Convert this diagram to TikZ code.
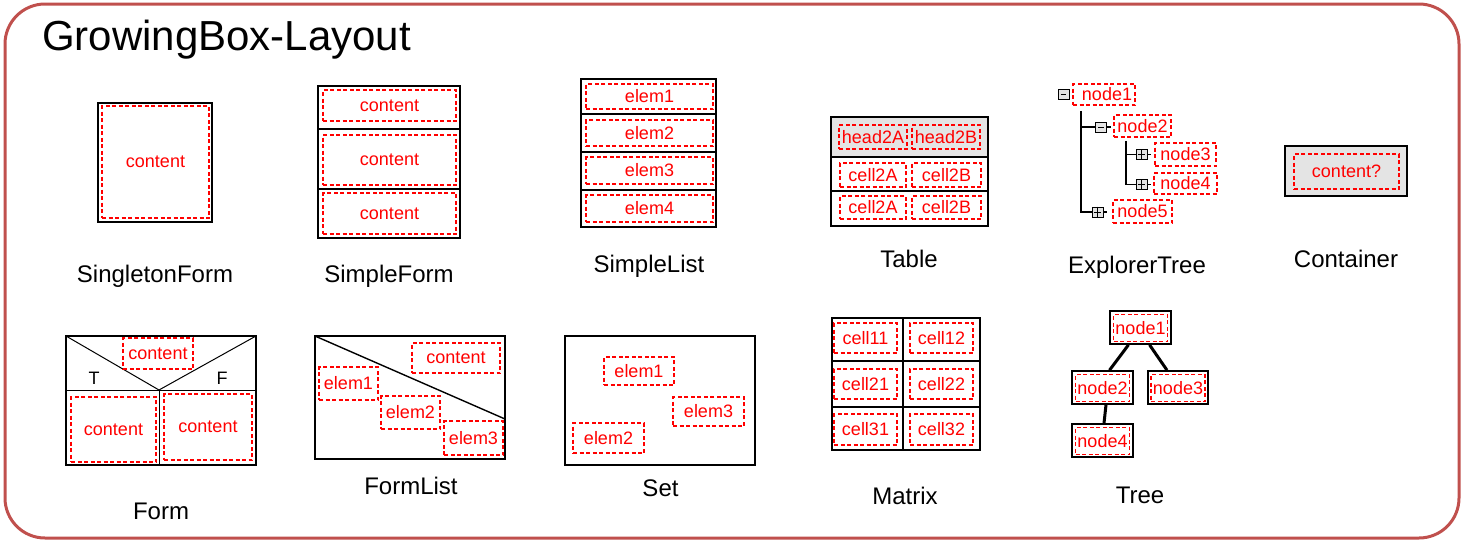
\documentclass[tikz,border=0pt]{standalone}
\usepackage{fontspec}
\setmainfont{Liberation Sans}
\usetikzlibrary{calc}
\definecolor{framered}{RGB}{192,80,77}
\definecolor{fillgray}{RGB}{228,228,228}
\begin{document}
\begin{tikzpicture}[x=1pt,y=-1pt,
  rb/.style={draw=red, line width=1.8pt, dash pattern=on 4pt off 2.5pt, text=red, font=\fontsize{18}{20}\selectfont, inner sep=0pt, rectangle},
  bb/.style={draw=black, line width=1.6pt, inner sep=0pt, rectangle},
  frm/.style={draw=black, line width=1.6pt},
  divl/.style={draw=black, line width=1pt},
  lbl/.style={font=\fontsize{24}{28}\selectfont, anchor=base, inner sep=0pt},
  tf/.style={font=\fontsize{18}{20}\selectfont, anchor=base, inner sep=0pt},
  tog/.style={draw=black, line width=0.9pt, fill=fillgray, minimum width=11pt, minimum height=10pt, inner sep=0pt, rectangle},
  conn/.style={draw=black, line width=1.4pt},
  tconn/.style={draw=black, line width=3pt},
]
\useasboundingbox (0,0) rectangle (1462,541);
% frame
\draw[framered, line width=3pt, rounded corners=40pt] (5,4) rectangle (1459,538);
\node[font=\fontsize{42}{48}\selectfont, anchor=base west, inner sep=0pt] (title) at (42,50) {GrowingBox-Layout};

% SingletonForm
\node[bb, minimum width=114pt, minimum height=119pt] (sgo) at (155,162.5) {};
\node[rb, minimum width=107pt, minimum height=112pt] (sgc) at (155.5,162) {content};
\node[lbl] (sgl) at (155,282) {SingletonForm};

% SimpleForm
\node[bb, minimum width=142pt, minimum height=152pt] (sfo) at (389,162) {};
\draw[frm] (318,129) -- (460,129);
\draw[frm] (318,189) -- (460,189);
\node[rb, minimum width=133pt, minimum height=31pt] (sf1) at (389.5,105.5) {content};
\node[rb, minimum width=133pt, minimum height=50pt] (sf2) at (389.5,160) {content};
\node[rb, minimum width=133pt, minimum height=41pt] (sf3) at (389.5,213.5) {content};
\node[lbl] (sfl) at (389,282) {SimpleForm};

% SimpleList
\node[bb, minimum width=135pt, minimum height=148pt] (slo) at (648.5,153) {};
\draw[frm] (581,114) -- (716,114);
\draw[frm] (581,152) -- (716,152);
\draw[frm] (581,190) -- (716,190);
\node[rb, minimum width=127pt, minimum height=25pt] (sl1) at (649.5,96.5) {elem1};
\node[rb, minimum width=127pt, minimum height=26pt] (sl2) at (649.5,133) {elem2};
\node[rb, minimum width=127pt, minimum height=27pt] (sl3) at (649.5,170.5) {elem3};
\node[rb, minimum width=127pt, minimum height=27pt] (sl4) at (649.5,208.5) {elem4};
\node[lbl] (sll) at (649,272) {SimpleList};

% Table
\fill[fillgray] (831,117) rectangle (988,157);
\node[bb, minimum width=157pt, minimum height=109pt] (tbo) at (909.5,171.5) {};
\draw[frm] (831,157) -- (988,157);
\draw[frm] (831,191) -- (988,191);
\node[rb, minimum width=68pt, minimum height=24pt] (th1) at (873,137) {head2A};
\node[rb, minimum width=68pt, minimum height=24pt] (th2) at (946,137) {head2B};
\node[rb, minimum width=66pt, minimum height=24pt] (tc1) at (873,175) {cell2A};
\node[rb, minimum width=69pt, minimum height=24pt] (tc2) at (946.5,175) {cell2B};
\node[rb, minimum width=66pt, minimum height=23pt] (tc3) at (873,207.5) {cell2A};
\node[rb, minimum width=69pt, minimum height=23pt] (tc4) at (946.5,207.5) {cell2B};
\node[lbl] (tbl) at (909,267) {Table};

% ExplorerTree
\node[tog] (t1) at (1063.5,94) {};
\draw[line width=1pt] ([xshift=3pt]t1.west) -- ([xshift=-3pt]t1.east);
\node[rb, minimum width=62pt, minimum height=21pt] (n1) at (1104,94.5) {\hspace*{6pt}node1};
\node[tog] (t2) at (1101,127) {};
\draw[line width=1pt] ([xshift=3pt]t2.west) -- ([xshift=-3pt]t2.east);
\node[rb, minimum width=57pt, minimum height=22pt] (n2) at (1142.5,126) {node2};
\node[tog] (t3) at (1141.5,154.5) {};
\draw[line width=1pt] ([xshift=2pt]t3.west) -- ([xshift=-2pt]t3.east) (t3.north) -- (t3.south);
\node[rb, minimum width=61pt, minimum height=23pt] (n3) at (1185.5,154.5) {node3};
\node[tog] (t4) at (1141.5,184.5) {};
\draw[line width=1pt] ([xshift=2pt]t4.west) -- ([xshift=-2pt]t4.east) (t4.north) -- (t4.south);
\node[rb, minimum width=63pt, minimum height=21pt] (n4) at (1185.5,183.5) {node4};
\node[tog] (t5) at (1097.5,212) {};
\draw[line width=1pt] ([xshift=2pt]t5.west) -- ([xshift=-2pt]t5.east) (t5.north) -- (t5.south);
\node[rb, minimum width=59pt, minimum height=23pt] (n5) at (1142.5,211.5) {node5};
\coordinate (v1) at ($(n1.south west)+(9,5)$);
\coordinate (v2) at ($(n2.south west)+(13,3)$);
\draw[conn] (v1) |- (t5.west);
\draw[conn] (v1 |- t2.west) -- (t2.west);
\draw[conn] (v2) |- (t4.west);
\draw[conn] (v2 |- t3.west) -- (t3.west);
\draw[conn] (t2.east) -- ++(4,0);
\draw[conn] (t3.east) -- ++(4,0);
\draw[conn] (t4.east) -- ++(4,0);
\draw[conn] (t5.east) -- ++(4,0);
\node[lbl] (etl) at (1137,273) {ExplorerTree};

% Container
\node[bb, fill=fillgray, minimum width=122pt, minimum height=50pt] (cto) at (1346,171) {};
\node[rb, minimum width=105pt, minimum height=35pt] (ctc) at (1346.5,171.5) {content?};
\node[lbl] (ctl) at (1346,267) {Container};

% Form
\node[bb, minimum width=190pt, minimum height=129pt] (fmo) at (161,400.5) {};
\draw[divl] (66,390) -- (256,390);
\draw[divl] (159,390) -- (159,465);
\draw[divl] (66,336) -- (159,390) -- (256,336);
\node[rb, minimum width=70pt, minimum height=31pt] (fm1) at (158,353.5) {content};
\node[tf] (fmt) at (94,384) {T};
\node[tf] (fmf) at (222,384) {F};
\node[rb, minimum width=85pt, minimum height=65pt] (fm2) at (113.5,429.5) {content};
\node[rb, minimum width=88pt, minimum height=66pt] (fm3) at (208,427) {content};
\node[lbl] (fml) at (161,519) {Form};

% FormList
\node[bb, minimum width=190pt, minimum height=123pt] (flo) at (410,397.5) {};
\draw[line width=1.4pt] (315,336) -- (505,419);
\node[rb, minimum width=88pt, minimum height=30pt] (flc) at (456,358) {content};
\node[rb, minimum width=59pt, minimum height=33pt] (fl1) at (348.5,383.5) {elem1};
\node[rb, minimum width=59pt, minimum height=33pt] (fl2) at (410.5,412.5) {elem2};
\node[rb, minimum width=59pt, minimum height=34pt] (fl3) at (473.5,438) {elem3};
\node[lbl] (fll) at (411,494) {FormList};

% Set
\node[bb, minimum width=190pt, minimum height=129pt] (sto) at (660,400.5) {};
\node[rb, minimum width=70pt, minimum height=28pt] (st1) at (639,371) {elem1};
\node[rb, minimum width=71pt, minimum height=29pt] (st3) at (708.5,411.5) {elem3};
\node[rb, minimum width=71pt, minimum height=30pt] (st2) at (608.5,438) {elem2};
\node[lbl] (stl) at (660.5,496) {Set};

% Matrix
\node[bb, minimum width=148pt, minimum height=132pt] (mxo) at (906,384) {};
\draw[frm] (903,318) -- (903,450);
\draw[frm] (832,361) -- (980,361);
\draw[frm] (832,407) -- (980,407);
\node[rb, minimum width=63pt, minimum height=30pt] (m11) at (865.5,338) {cell11};
\node[rb, minimum width=63pt, minimum height=30pt] (m12) at (941.5,338) {cell12};
\node[rb, minimum width=63pt, minimum height=30pt] (m21) at (865.5,384) {cell21};
\node[rb, minimum width=63pt, minimum height=30pt] (m22) at (941.5,384) {cell22};
\node[rb, minimum width=63pt, minimum height=31pt] (m31) at (865.5,429.5) {cell31};
\node[rb, minimum width=63pt, minimum height=31pt] (m32) at (941.5,429.5) {cell32};
\node[lbl] (mxl) at (905,504) {Matrix};

% Tree
\node[bb, minimum width=61pt, minimum height=33pt] (tn1) at (1140.5,327.5) {};
\node[rb, minimum width=54pt, minimum height=27pt] (ti1) at (1140.5,328) {node1};
\node[bb, minimum width=61pt, minimum height=33pt] (tn2) at (1102.5,387.5) {};
\node[rb, minimum width=54pt, minimum height=27pt] (ti2) at (1102.5,388) {node2};
\node[bb, minimum width=60pt, minimum height=33pt] (tn3) at (1178,387.5) {};
\node[rb, minimum width=54pt, minimum height=27pt] (ti3) at (1178,388) {node3};
\node[bb, minimum width=61pt, minimum height=33pt] (tn4) at (1102.5,440.5) {};
\node[rb, minimum width=54pt, minimum height=27pt] (ti4) at (1102.5,441) {node4};
\draw[tconn] ([xshift=-12pt]tn1.south) -- ([xshift=7pt]tn2.north);
\draw[tconn] ([xshift=9pt]tn1.south) -- ([xshift=-11pt]tn3.north);
\draw[tconn] ([xshift=3.5pt]tn2.south) -- ([xshift=1.5pt]tn4.north);
\node[lbl] (trl) at (1140,503) {Tree};
\end{tikzpicture}
\end{document}
